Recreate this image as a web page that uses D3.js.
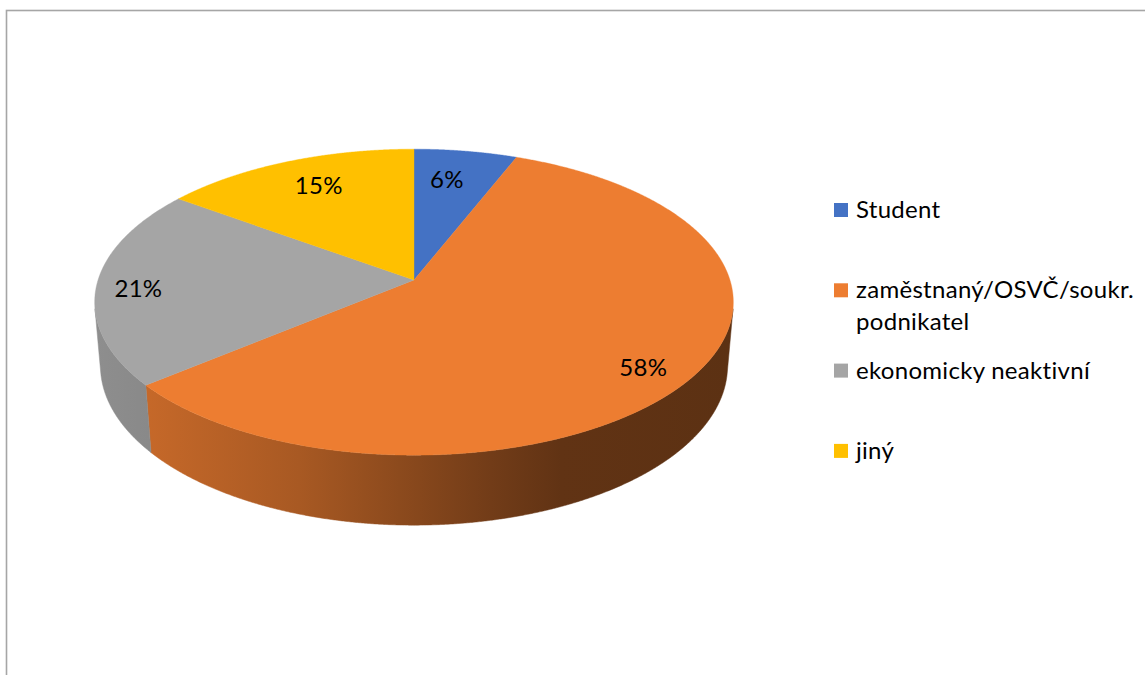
<!DOCTYPE html>
<html>
<head>
<meta charset="utf-8">
<script src="https://cdn.jsdelivr.net/npm/d3@7"></script>
<style>
  html, body { margin: 0; padding: 0; background: #fff; }
  svg { display: block; font-family: Lato, "Open Sans", sans-serif; }
</style>
</head>
<body>
<svg id="chart" width="1145" height="675"></svg>
<script>
// ---- data ----
const categories = ["Student", "zaměstnaný/OSVČ/soukr. podnikatel", "ekonomicky neaktivní", "jiný"];
const shares = [6, 58, 21, 15];
const colors = ["#4472c4", "#ed7d31", "#a5a5a5", "#ffc000"];

// ---- layout ----
const W = 1145, H = 675;
const labelRadius = [0.75, 0.86, 0.867, 0.774];  // label distance from centre, fraction of radius
const labelAlong = [0.41, 0.514, 0.475, 0.53];   // label position within the slice's angular span
const fontSize = 24;
const letterSpacing = 0.3;

const svg = d3.select("#chart");

// chart area frame
svg.append("rect")
  .attr("x", 6.5).attr("y", 10.5)
  .attr("width", W).attr("height", H)
  .attr("fill", "#fff")
  .attr("stroke", "#a6a6a6")
  .attr("stroke-width", 1.6);

// ---- perspective projection of a tilted disc ----
const cx = 414, cy = 280;
const tilt = 28.3 * Math.PI / 180;
const dist = 6.077;      // camera distance in radius units
const focal = 1920;      // px
const depth = 0.231;     // disc thickness in radius units
const sT = Math.sin(tilt), cT = Math.cos(tilt);

// a: angle clockwise from 12 o'clock, r: radius fraction, z: height (0 = top face)
function project(a, r, z) {
  const X = r * Math.sin(a), Y = r * Math.cos(a);
  const yc = Y * sT + z * cT;
  const zc = dist + Y * cT - z * sT;
  return [cx + focal * X / zc, cy - focal * yc / zc];
}

function sampleAngles(a0, a1) {
  const step = Math.PI / 720;
  const out = d3.range(a0, a1, step);
  out.push(a1);
  return out;
}

const arcs = d3.pie().sort(null).value(d => d)
  .startAngle(0).endAngle(2 * Math.PI)(shares);

// part of the outer wall facing the camera
const visLo = Math.acos(-1 / (dist * cT));
const visHi = 2 * Math.PI - visLo;

// horizontal extent of the disc on screen, for side shading
const rim = sampleAngles(0, 2 * Math.PI).map(a => project(a, 1, 0)[0]);
const xMin = d3.min(rim), xMax = d3.max(rim);

// side lighting: light from the left, darker toward the right
const shadeU = [-1, -0.83, -0.36, -0.045, 0.24, 0.46, 1];
const shadeK = [0.86, 0.83, 0.71, 0.59, 0.48, 0.41, 0.39];

const defs = svg.append("defs");
colors.forEach((c, i) => {
  const g = defs.append("linearGradient")
    .attr("id", "wall" + i)
    .attr("gradientUnits", "userSpaceOnUse")
    .attr("x1", xMin).attr("x2", xMax)
    .attr("y1", 0).attr("y2", 0);
  const base = d3.rgb(c);
  shadeU.forEach((u, j) => {
    const k = shadeK[j];
    g.append("stop")
      .attr("offset", (u + 1) / 2)
      .attr("stop-color", d3.rgb(base.r * k, base.g * k, base.b * k).formatHex());
  });
});

const pie = svg.append("g");
const line = d3.line();

// outer walls
arcs.forEach((d, i) => {
  const lo = Math.max(d.startAngle, visLo);
  const hi = Math.min(d.endAngle, visHi);
  if (lo >= hi) return;
  const angles = sampleAngles(lo, hi);
  const top = angles.map(a => project(a, 1, 0));
  const bottom = angles.slice().reverse().map(a => project(a, 1, -depth));
  pie.append("path")
    .attr("d", line(top.concat(bottom)) + "Z")
    .attr("fill", `url(#wall${i})`)
    .attr("stroke", `url(#wall${i})`)
    .attr("stroke-width", 0.5);
});

// top faces
arcs.forEach((d, i) => {
  const pts = [project(0, 0, 0)].concat(
    sampleAngles(d.startAngle, d.endAngle).map(a => project(a, 1, 0)));
  pie.append("path")
    .attr("d", line(pts) + "Z")
    .attr("fill", colors[i])
    .attr("stroke", colors[i])
    .attr("stroke-width", 0.4);
});

// value labels
arcs.forEach((d, i) => {
  const a = d.startAngle + (d.endAngle - d.startAngle) * labelAlong[i];
  const [x, y] = project(a, labelRadius[i], 0);
  pie.append("text")
    .attr("x", x).attr("y", y)
    .attr("dy", "0.36em")
    .attr("text-anchor", "middle")
    .attr("font-size", fontSize)
    .attr("letter-spacing", letterSpacing)
    .attr("fill", "#000")
    .text(d.data + "%");
});

// ---- legend ----
const legendX = 834, legendTop = 218, legendStep = 80.3, lineH = 32, maxTextW = 290;
const legend = svg.append("g");
categories.forEach((name, i) => {
  const base = legendTop + i * legendStep;
  legend.append("rect")
    .attr("x", legendX).attr("y", base - 15)
    .attr("width", 14).attr("height", 14)
    .attr("fill", colors[i]);
  const t = legend.append("text")
    .attr("x", legendX + 22).attr("y", base)
    .attr("font-size", fontSize)
    .attr("letter-spacing", letterSpacing)
    .attr("fill", "#000");
  // greedy word wrap
  const words = name.split(" ");
  let lineWords = [];
  let ts = t.append("tspan").attr("x", legendX + 22).attr("y", base);
  let row = 0;
  words.forEach(w => {
    lineWords.push(w);
    ts.text(lineWords.join(" "));
    if (ts.node().getComputedTextLength() > maxTextW && lineWords.length > 1) {
      lineWords.pop();
      ts.text(lineWords.join(" "));
      lineWords = [w];
      row++;
      ts = t.append("tspan").attr("x", legendX + 22).attr("y", base + row * lineH).text(w);
    }
  });
});
</script>
</body>
</html>
